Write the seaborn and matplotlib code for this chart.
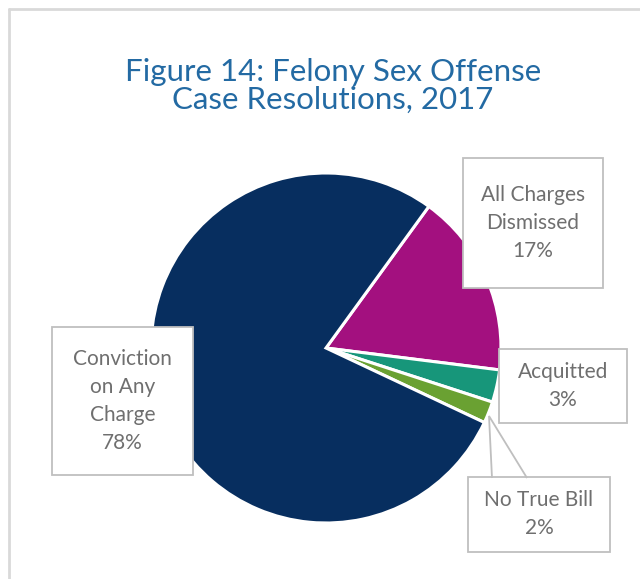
import matplotlib
matplotlib.use("Agg")
import matplotlib.pyplot as plt
import seaborn as sns
from matplotlib.patches import Rectangle, Polygon
from matplotlib.lines import Line2D

categories = ["All Charges\nDismissed", "Acquitted", "No True Bill", "Conviction\non Any\nCharge"]
values = [17, 3, 2, 78]
pct_labels = ["17%", "3%", "2%", "78%"]
colors = ["#a3107f", "#17967a", "#6aa132", "#072e5f"]
title = "Figure 14: Felony Sex Offense\nCase Resolutions, 2017"

sns.set_theme(style="white")
plt.rcParams["font.family"] = ["Lato", "DejaVu Sans"]

W, H = 640, 579
fig = plt.figure(figsize=(6.4, 5.79), dpi=100)
ax = fig.add_axes([0, 0, 1, 1])

def Y(py):
    return H - py

ax.pie(values, colors=colors, startangle=54, counterclock=False,
       center=(326, Y(348)), radius=175,
       wedgeprops=dict(edgecolor="white", linewidth=2.2))
ax.set_xlim(0, W)
ax.set_ylim(0, H)
ax.set_aspect("auto")
ax.axis("off")

# outer frame
ax.add_line(Line2D([9, 9], [Y(9), Y(579)], color="#d9d9d9", lw=2))
ax.add_line(Line2D([9, 640], [Y(9), Y(9)], color="#d9d9d9", lw=2))

ax.text(333, Y(86), title, ha="center", va="center", fontsize=22.5,
        color="#236aa3", linespacing=1.0)

boxes = [
    (463, 158, 603, 288),
    (499, 349, 627, 423),
    (468, 477, 610, 552),
    (52, 327, 193, 475),
]
for (x0, y0, x1, y1), cat, pct in zip(boxes, categories, pct_labels):
    ax.add_patch(Rectangle((x0, Y(y1)), x1 - x0, y1 - y0, facecolor="white",
                           edgecolor="#bfbfbf", lw=1.3, zorder=3))
    ax.text((x0 + x1) / 2, Y((y0 + y1) / 2), cat + "\n" + pct, ha="center",
            va="center", fontsize=15, color="#6f6f6f", linespacing=1.5,
            zorder=4)

# callout pointer for No True Bill
ax.add_patch(Polygon([(492, Y(478)), (489, Y(416)), (527, Y(478))], closed=False,
                     facecolor="none", edgecolor="#bfbfbf", lw=1.3, zorder=3))

fig.savefig("out.png", dpi=100)
